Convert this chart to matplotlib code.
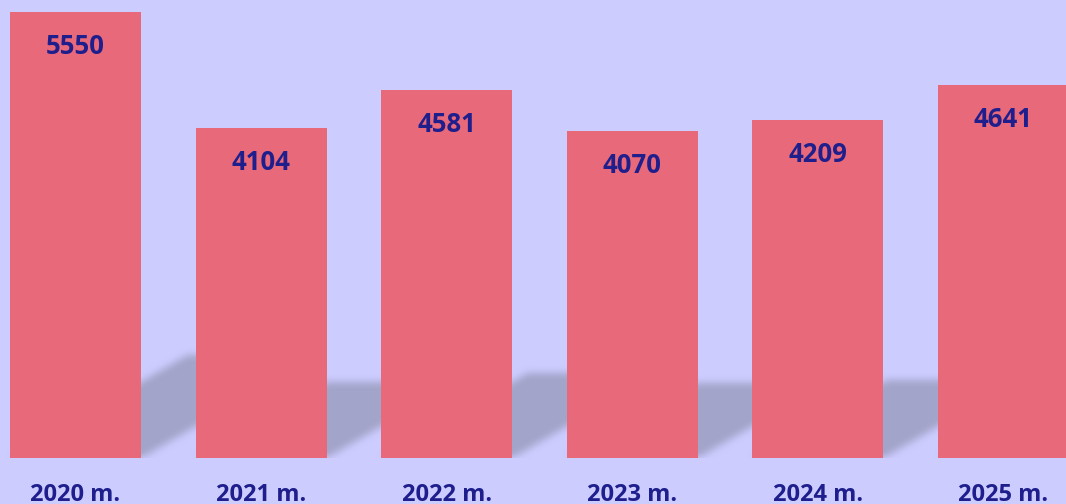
import matplotlib
matplotlib.use("Agg")
import matplotlib.pyplot as plt
import numpy as np

years = ["2020 m.", "2021 m.", "2022 m.", "2023 m.", "2024 m.", "2025 m."]
values = [5550, 4104, 4581, 4070, 4209, 4641]

bg = "#CCCCFF"
bar_color = "#E8697A"
text_color = "#1E1E8C"
shadow_color = "#A3A4C9"

plt.rcParams["font.family"] = ["Open Sans", "DejaVu Sans"]

W, H = 1066, 504
fig = plt.figure(figsize=(W / 100, H / 100), dpi=100)
fig.patch.set_facecolor(bg)
ax = fig.add_axes([0, 46 / H, 1, 458 / H])
ax.set_facecolor(bg)

x = np.arange(len(values))
width = 0.706
ax.set_xlim(-0.407, 5.337)
ax.set_ylim(0, 5699)

# soft shadow cast behind each bar, rendered as a blurred raster in pixel space
axw, axh = 1066, 458
px_per_x = axw / (5.337 + 0.407)
px_per_y = axh / 5699
gx, gy = np.meshgrid(np.arange(axw) + 0.5, np.arange(axh) + 0.5)
gy_up = axh - gy
mask = np.zeros((axh, axw))
slope = 0.58
for xi, v in zip(x, values):
    left = (xi - width / 2 + 0.407) * px_per_x
    right = (xi + width / 2 + 0.407) * px_per_x
    sh = 0.23 * v * px_per_y
    shift = gy_up / slope
    inside = (gy_up <= sh) & (gx >= left + shift) & (gx <= right + shift)
    mask[inside] = 1.0

k = 9
kern = np.ones(k) / k
for _ in range(2):
    mask = np.apply_along_axis(lambda r: np.convolve(r, kern, mode="same"), 1, mask)
    mask = np.apply_along_axis(lambda c: np.convolve(c, kern, mode="same"), 0, mask)

rgba = np.zeros((axh, axw, 4))
rgba[..., :3] = matplotlib.colors.to_rgb(shadow_color)
rgba[..., 3] = mask
ax.imshow(rgba, extent=(-0.407, 5.337, 0, 5699), aspect="auto", zorder=1, interpolation="bilinear")

bars = ax.bar(x, values, width=width, color=bar_color, zorder=2)

for xi, v in zip(x, values):
    ax.annotate(str(v), (xi, v), xytext=(0, -25), textcoords="offset points",
                ha="center", va="center", fontsize=18.5, fontweight="bold",
                color=text_color, zorder=3)

ax.set_xticks(x)
ax.set_xticklabels(years, fontsize=17, fontweight="bold", color=text_color)
ax.tick_params(axis="x", length=0, pad=18)
ax.set_yticks([])
for s in ax.spines.values():
    s.set_visible(False)

fig.savefig("out.png", dpi=100, facecolor=bg)
